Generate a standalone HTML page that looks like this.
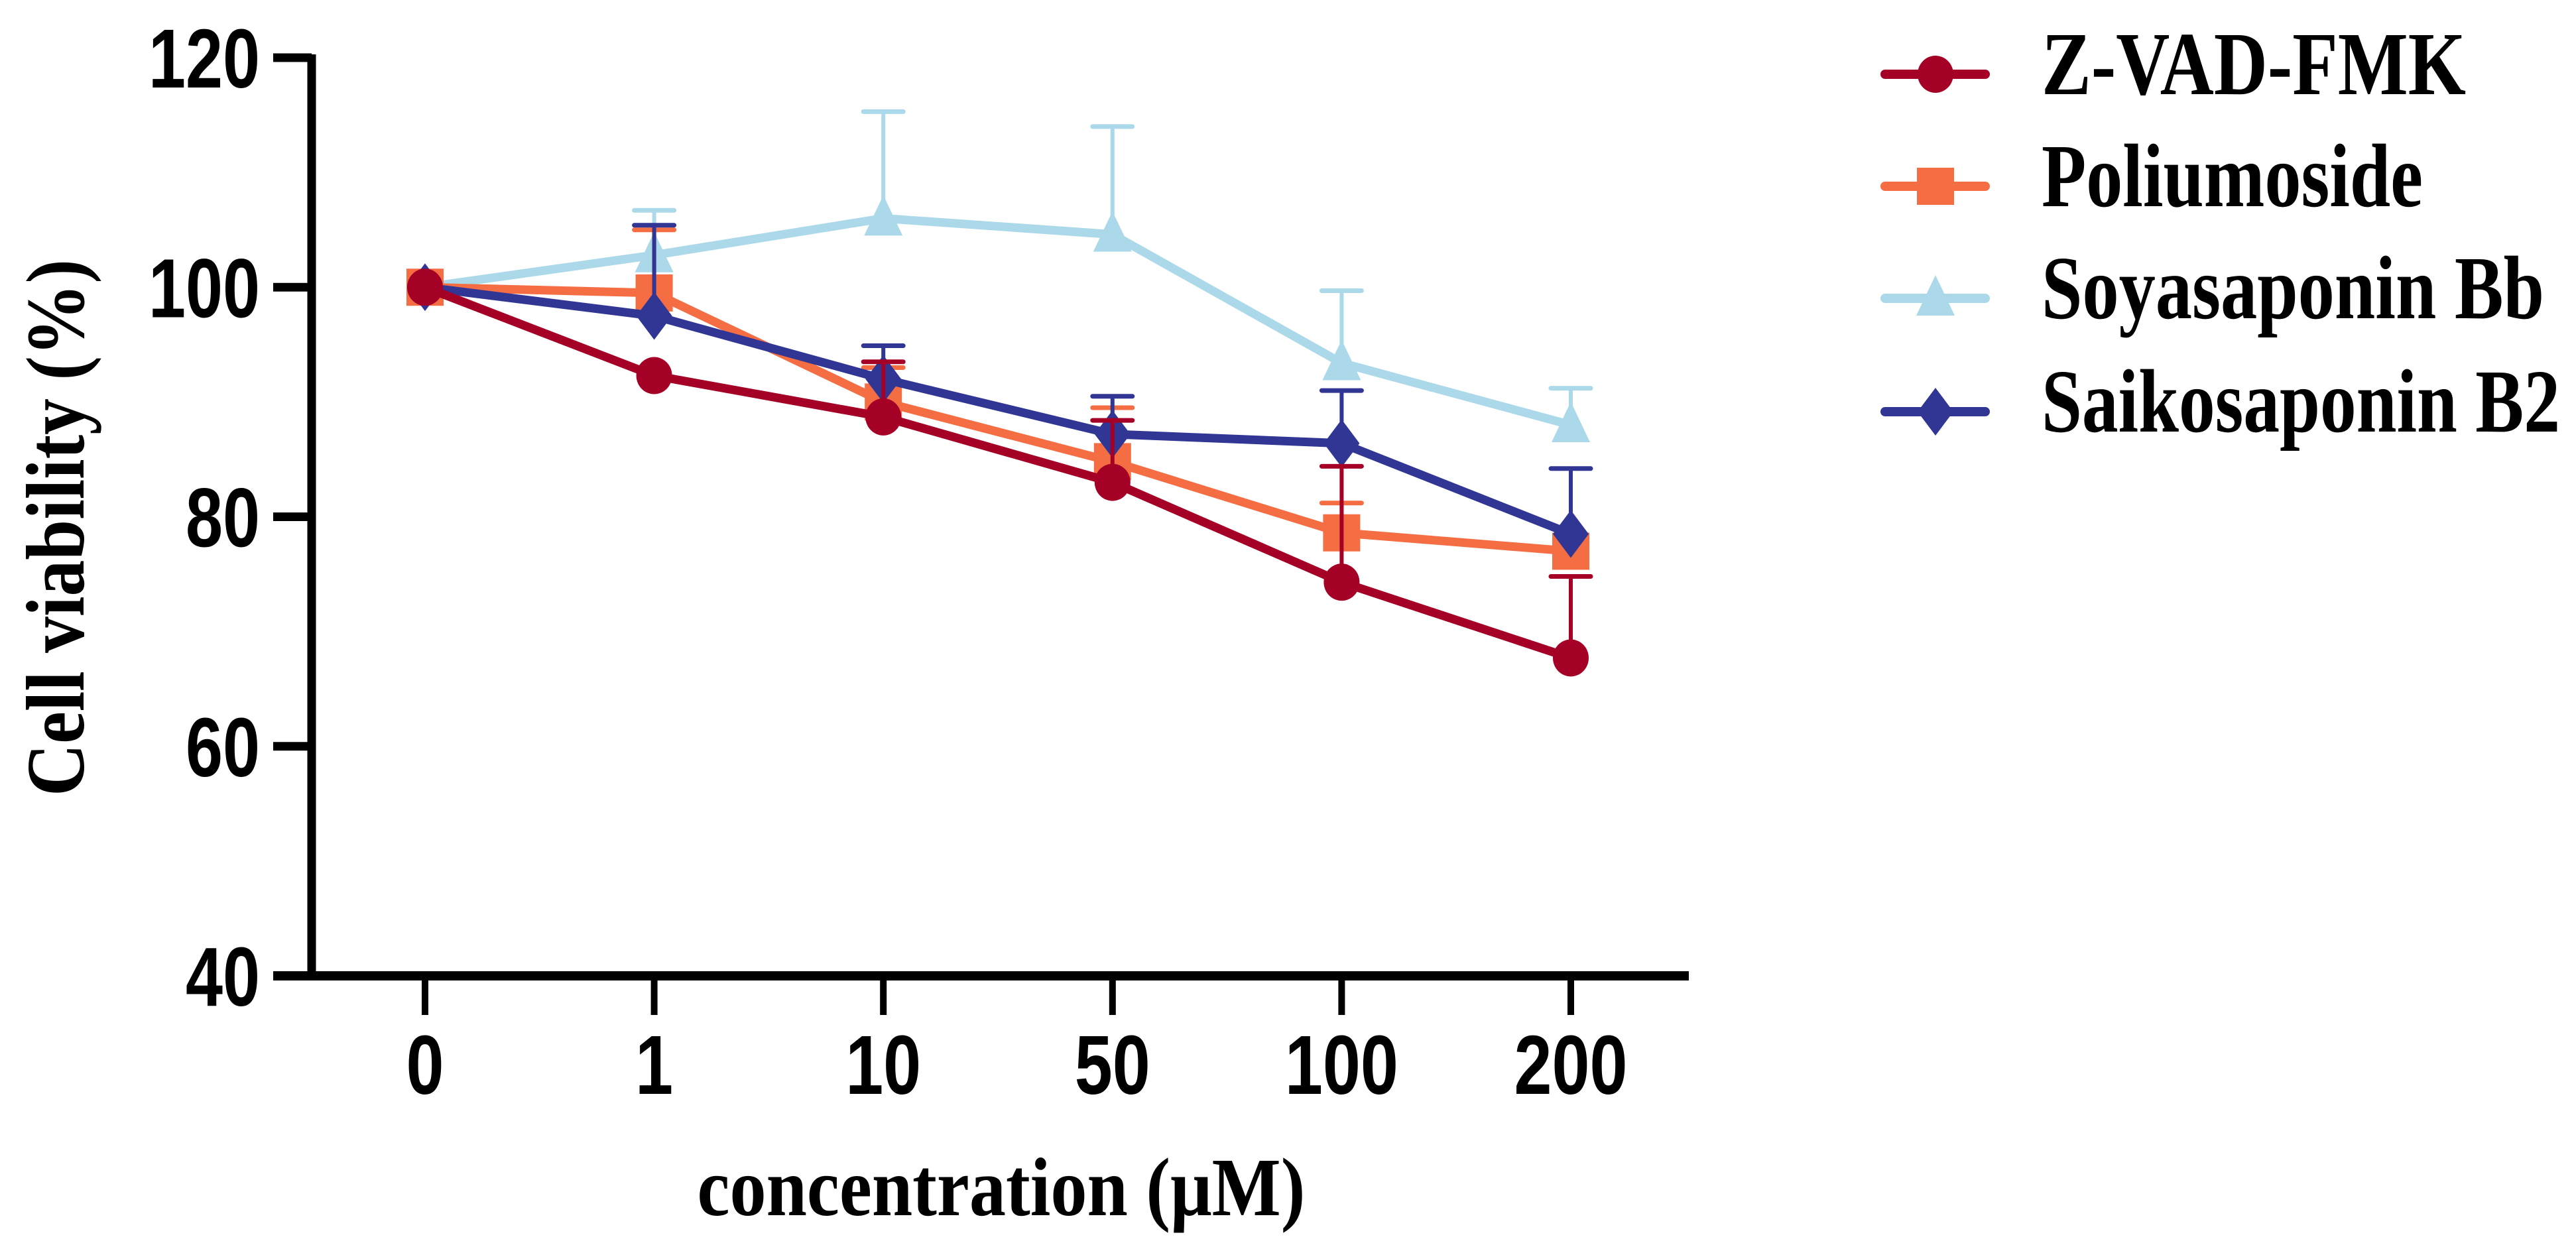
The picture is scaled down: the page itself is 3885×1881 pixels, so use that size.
<!DOCTYPE html>
<html><head><meta charset="utf-8"><style>
html,body{margin:0;padding:0;background:#fff;}
svg{display:block;}
text{font-family:"Liberation Sans",sans-serif;font-weight:bold;fill:#000;}
.serif{font-family:"Liberation Serif",serif;}
</style></head><body>
<svg id="chart" width="3885" height="1881" viewBox="0 0 3885 1881" xmlns="http://www.w3.org/2000/svg">
<g id="plot"></g>
<g id="axes"></g>
<g id="legend"></g>
</svg>
<script>
const categories = ["0","1","10","50","100","200"];
const yTicks = [40,60,80,100,120];
const seriesNames = ["Z-VAD-FMK","Poliumoside","Soyasaponin Bb","Saikosaponin B2"];
const zvadValues = [100,92.3,88.7,83,74.3,67.7];
const zvadErr = [0,0,4.8,5.4,10.1,7.1];
const poliValues = [100,99.5,90,84.8,78.6,77];
const poliErr = [0,5.5,3.0,4.7,2.6,0];
const soyValues = [100,102.8,106,104.6,93.4,88];
const soyErr = [0,3.9,9.3,9.4,6.3,3.2];
const saikoValues = [100,97.5,92,87.2,86.4,78.5];
const saikoErr = [0,7.9,2.9,3.3,4.6,5.7];

const NS="http://www.w3.org/2000/svg";
const xPos = i => 641 + i*345.6;
const yPos = v => 1472 - (v-40)*(1472-87)/80;
function mk(tag, attrs, parent){const e=document.createElementNS(NS,tag);for(const k in attrs)e.setAttribute(k,attrs[k]);parent.appendChild(e);return e;}
const plot=document.getElementById('plot'), axes=document.getElementById('axes'), legend=document.getElementById('legend');

let el=mk('line',{x1:470,y1:82,x2:470,y2:1479,stroke:'#000','stroke-width':13},axes);


el=mk('line',{x1:412,y1:1472,x2:2547,y2:1472,stroke:'#000','stroke-width':14},axes);


yTicks.forEach(t=>{
  const y=yPos(t);
  let tk=mk('line',{x1:412,y1:y,x2:470,y2:y,stroke:'#000','stroke-width':13},axes);
  
  
  let tl=mk('text',{x:392,y:y+45,'text-anchor':'end','font-size':126,textLength:String(t).length*56,lengthAdjust:'spacingAndGlyphs'},axes);
  tl.textContent=t;
  
  
});
categories.forEach((c,i)=>{
  const x=xPos(i);
  let tk=mk('line',{x1:x,y1:1472,x2:x,y2:1531,stroke:'#000','stroke-width':10},axes);
  
  
  let tl=mk('text',{x:x,y:1650,'text-anchor':'middle','font-size':126,textLength:c.length*57,lengthAdjust:'spacingAndGlyphs'},axes);
  tl.textContent=c;
  
  
});
el=mk('text',{x:1510,y:1833,'text-anchor':'middle','font-size':125,class:'serif',textLength:917,lengthAdjust:'spacingAndGlyphs'},axes);
el.textContent='concentration (μM)';


el=mk('text',{x:0,y:0,'text-anchor':'middle','font-size':125,class:'serif',transform:'translate(126,796) rotate(-90)',textLength:810,lengthAdjust:'spacingAndGlyphs'},axes);
el.textContent='Cell viability (%)';



function marker(type,cx,cy,color,parent){
  let m;
  if(type==='circle') m=mk('ellipse',{cx:cx,cy:cy,rx:27,ry:28,fill:color},parent);
  else if(type==='square') m=mk('rect',{x:cx-28,y:cy-28,width:56,height:56,fill:color},parent);
  else if(type==='triangle') m=mk('polygon',{points:`${cx},${cy-35} ${cx+29},${cy+26} ${cx-29},${cy+26}`,fill:color},parent);
  else m=mk('polygon',{points:`${cx},${cy-36} ${cx+27},${cy} ${cx},${cy+36} ${cx-27},${cy}`,fill:color},parent);
  return m;
}
const seriesDefs=[
 {vals:soyValues,err:soyErr,color:'#abd9e9',type:'triangle',name:'soyasaponin-bb'},
 {vals:poliValues,err:poliErr,color:'#f46d43',type:'square',name:'poliumoside'},
 {vals:saikoValues,err:saikoErr,color:'#313695',type:'diamond',name:'saikosaponin-b2'},
 {vals:zvadValues,err:zvadErr,color:'#a50026',type:'circle',name:'z-vad-fmk'}
];
seriesDefs.forEach(s=>{
  const g=mk('g',{},plot);
  
  
  s.vals.forEach((v,i)=>{
    if(s.err[i]>0){
      const x=xPos(i),y1=yPos(v),y2=yPos(v+s.err[i]);
      let eb=mk('line',{x1:x,y1:y1,x2:x,y2:y2,stroke:s.color,'stroke-width':6},g);
      
      
      let cap=mk('line',{x1:x-30,y1:y2,x2:x+30,y2:y2,stroke:s.color,'stroke-width':7,'stroke-linecap':'round'},g);
      
      
    }
  });
  const pts=s.vals.map((v,i)=>xPos(i)+','+yPos(v)).join(' ');
  let pl=mk('polyline',{points:pts,fill:'none',stroke:s.color,'stroke-width':13,'stroke-linejoin':'miter'},g);
  
  
  s.vals.forEach((v,i)=>{
    let m=marker(s.type,xPos(i),yPos(v),s.color,g);
    
    
  });
});

const legOrder=[3,1,0,2];
const legY=[112,281,450,621];
const legW=[640,575,758,782];
seriesNames.forEach((n,k)=>{
  const s=seriesDefs[legOrder[k]];
  const g=mk('g',{},legend);
  
  
  mk('line',{x1:2843,y1:legY[k],x2:2994,y2:legY[k],stroke:s.color,'stroke-width':14,'stroke-linecap':'round'},g);
  marker(s.type,2919,legY[k],s.color,g);
  let t=mk('text',{x:3079,y:legY[k]+30,'font-size':136,class:'serif',textLength:legW[k],lengthAdjust:'spacingAndGlyphs'},g);
  t.textContent=n;
  
  
});
</script>
</body></html>
